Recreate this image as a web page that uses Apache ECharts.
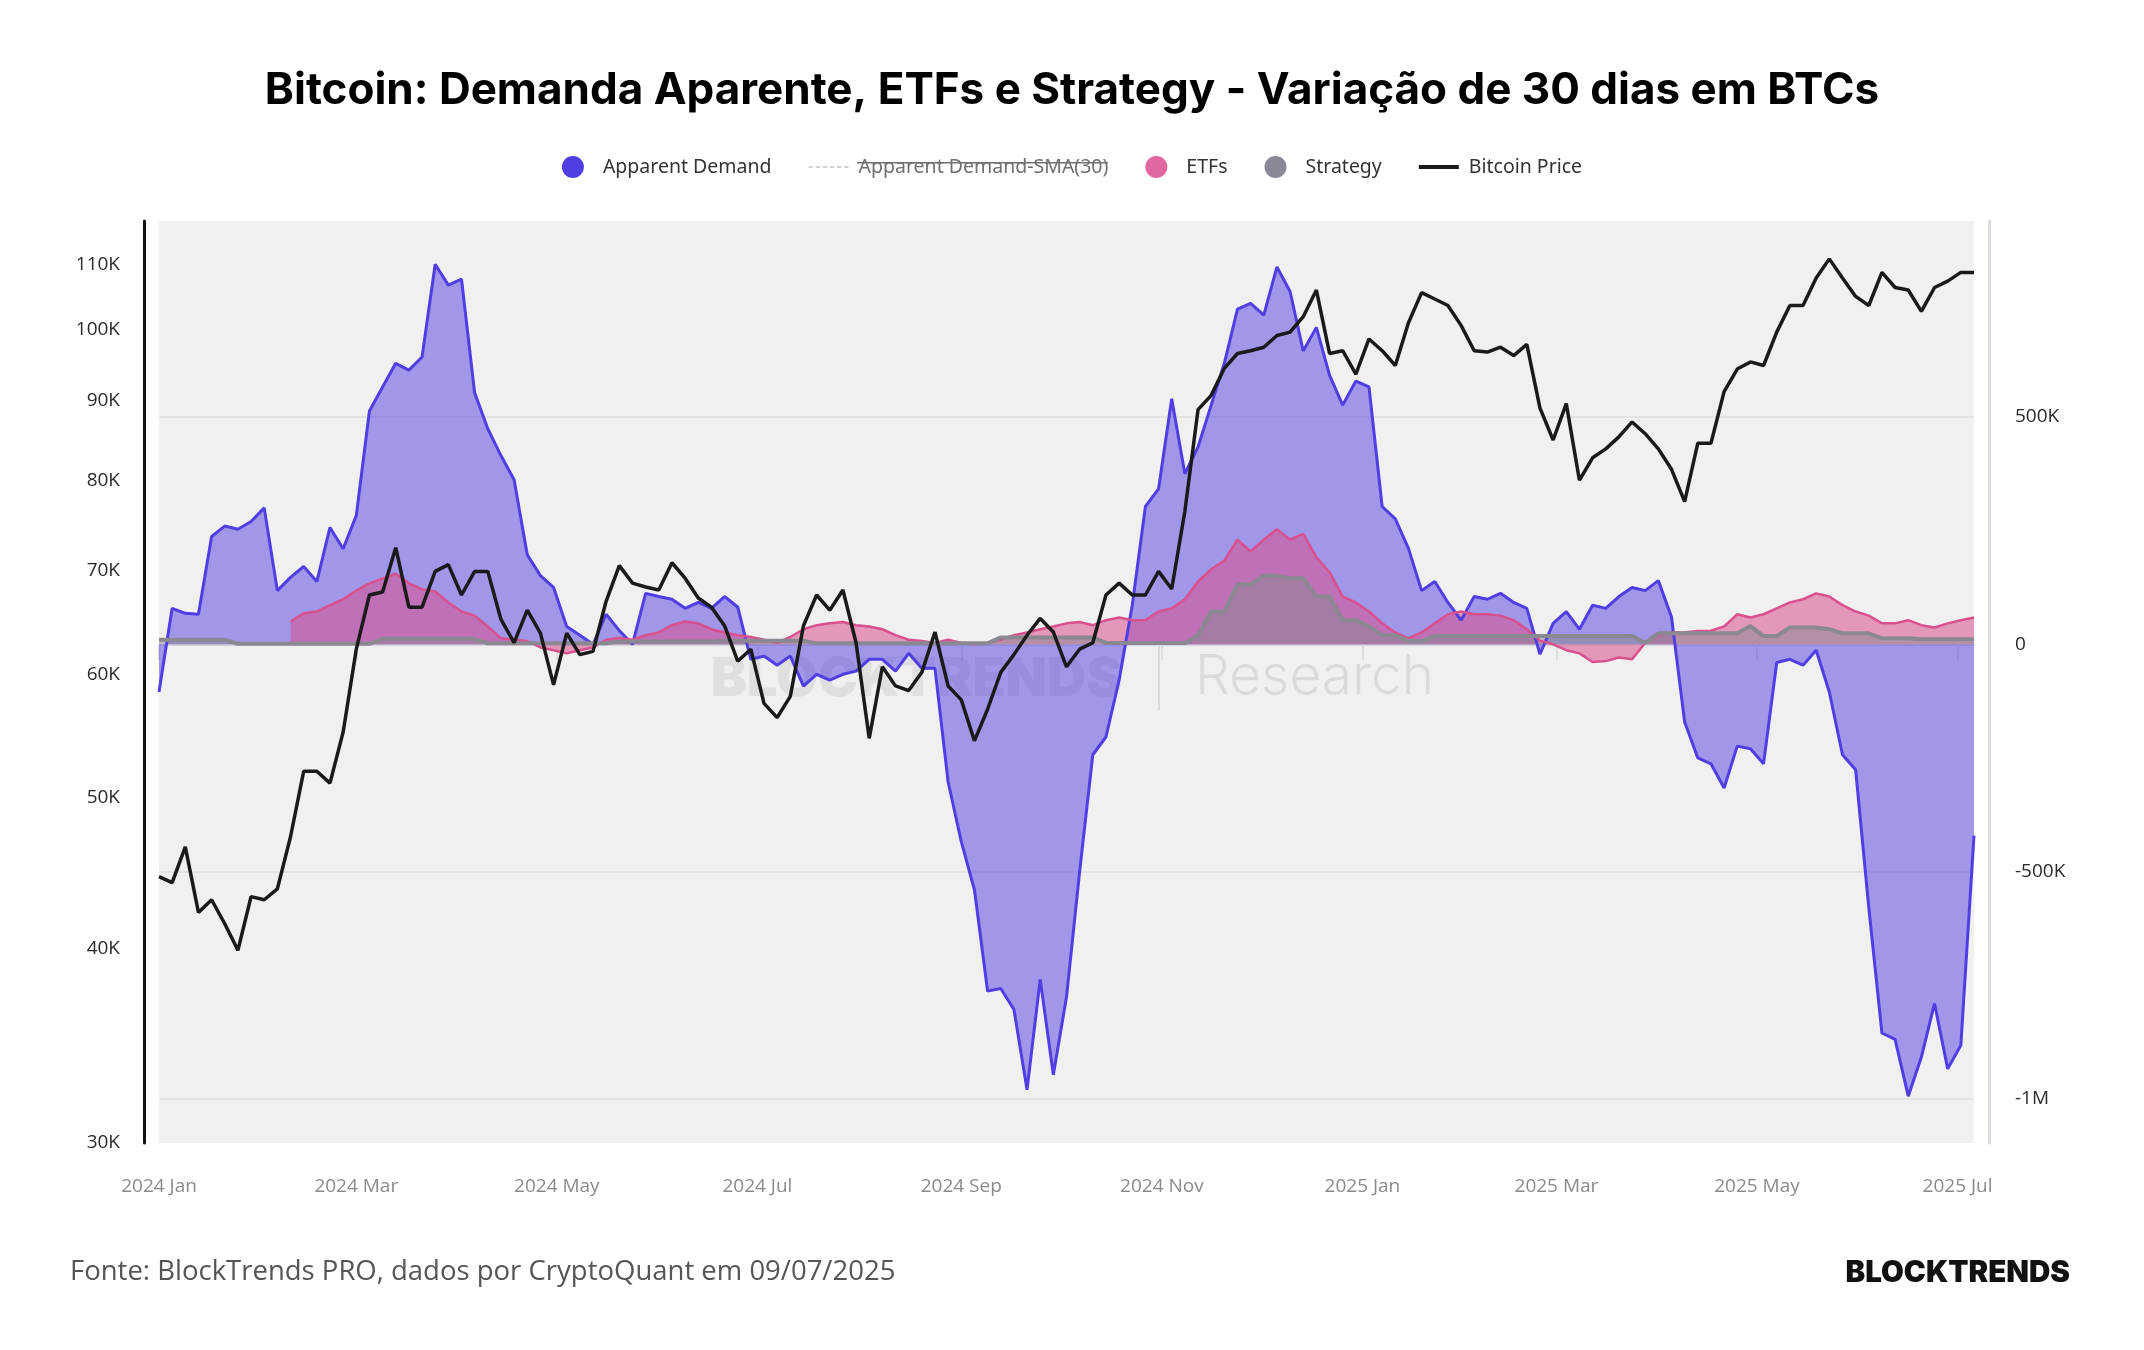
<!DOCTYPE html>
<html>
<head>
<meta charset="utf-8">
<title>Bitcoin: Demanda Aparente, ETFs e Strategy</title>
<script src="https://cdn.jsdelivr.net/npm/echarts@6/dist/echarts.min.js"></script>
<style>
  html, body { margin: 0; padding: 0; background: #fff; }
  #main { width: 2144px; height: 1350px; }
</style>
</head>
<body>
<div id="main"></div>
<script>
// datas (a cada 4 dias)
var dates = [
  '2024-01-01','2024-01-05','2024-01-09','2024-01-13','2024-01-17','2024-01-21','2024-01-25','2024-01-29','2024-02-02','2024-02-06',
  '2024-02-10','2024-02-14','2024-02-18','2024-02-22','2024-02-26','2024-03-01','2024-03-05','2024-03-09','2024-03-13','2024-03-17',
  '2024-03-21','2024-03-25','2024-03-29','2024-04-02','2024-04-06','2024-04-10','2024-04-14','2024-04-18','2024-04-22','2024-04-26',
  '2024-04-30','2024-05-04','2024-05-08','2024-05-12','2024-05-16','2024-05-20','2024-05-24','2024-05-28','2024-06-01','2024-06-05',
  '2024-06-09','2024-06-13','2024-06-17','2024-06-21','2024-06-25','2024-06-29','2024-07-03','2024-07-07','2024-07-11','2024-07-15',
  '2024-07-19','2024-07-23','2024-07-27','2024-07-31','2024-08-04','2024-08-08','2024-08-12','2024-08-16','2024-08-20','2024-08-24',
  '2024-08-28','2024-09-01','2024-09-05','2024-09-09','2024-09-13','2024-09-17','2024-09-21','2024-09-25','2024-09-29','2024-10-03',
  '2024-10-07','2024-10-11','2024-10-15','2024-10-19','2024-10-23','2024-10-27','2024-10-31','2024-11-04','2024-11-08','2024-11-12',
  '2024-11-16','2024-11-20','2024-11-24','2024-11-28','2024-12-02','2024-12-06','2024-12-10','2024-12-14','2024-12-18','2024-12-22',
  '2024-12-26','2024-12-30','2025-01-03','2025-01-07','2025-01-11','2025-01-15','2025-01-19','2025-01-23','2025-01-27','2025-01-31',
  '2025-02-04','2025-02-08','2025-02-12','2025-02-16','2025-02-20','2025-02-24','2025-02-28','2025-03-04','2025-03-08','2025-03-12',
  '2025-03-16','2025-03-20','2025-03-24','2025-03-28','2025-04-01','2025-04-05','2025-04-09','2025-04-13','2025-04-17','2025-04-21',
  '2025-04-25','2025-04-29','2025-05-03','2025-05-07','2025-05-11','2025-05-15','2025-05-19','2025-05-23','2025-05-27','2025-05-31',
  '2025-06-04','2025-06-08','2025-06-12','2025-06-16','2025-06-20','2025-06-24','2025-06-28','2025-07-02','2025-07-06'
];

// variacao de 30 dias, em milhares de BTC
var apparentDemand = [
  -105, 79, 68, 66, 237, 260, 253, 270, 300, 118,
  147, 171, 138, 257, 210, 283, 513, 566, 618, 603,
  632, 836, 790, 803, 553, 474, 415, 362, 197, 151,
  125, 39, 20, 0, 66, 30, 0, 112, 105, 99,
  79, 92, 79, 105, 82, -33, -26, -46, -26, -92,
  -66, -79, -66, -59, -33, -33, -59, -20, -53, -53,
  -303, -434, -540, -763, -757, -803, -980, -737, -947, -776,
  -500, -243, -204, -79, 86, 303, 342, 540, 375, 434,
  526, 618, 737, 750, 724, 830, 776, 645, 697, 592,
  526, 579, 566, 303, 276, 211, 118, 138, 92, 53,
  105, 99, 112, 92, 79, -22, 46, 72, 33, 86,
  79, 105, 125, 118, 140, 60, -171, -250, -263, -316,
  -224, -230, -263, -40, -33, -46, -13, -105, -243, -276,
  -579, -855, -869, -994, -908, -790, -934, -882, -421
];

var etfs = [
  null, null, null, null, null, null, null, null, null, null,
  50, 68, 72, 86, 99, 118, 134, 145, 155, 134,
  121, 116, 92, 72, 63, 39, 13, 10, 7, -7,
  -13, -20, -13, -7, 10, 14, 10, 20, 26, 42,
  50, 46, 33, 26, 20, 16, 10, 3, 16, 33,
  42, 46, 49, 42, 39, 33, 20, 10, 7, 3,
  10, 3, 0, 3, 10, 20, 26, 33, 39, 46,
  49, 42, 53, 59, 53, 53, 72, 79, 99, 138,
  165, 184, 230, 204, 230, 253, 230, 243, 191, 158,
  105, 92, 72, 46, 26, 13, 26, 46, 66, 72,
  66, 66, 63, 53, 33, 8, 0, -13, -20, -39,
  -37, -29, -33, 3, 20, 26, 26, 29, 30, 39,
  66, 59, 66, 79, 92, 99, 112, 105, 86, 72,
  63, 46, 46, 53, 42, 37, 46, 53, 59
];

var strategy = [
  10, 10, 10, 10, 10, 10, 1, 1, 1, 1,
  1, 1, 1, 1, 1, 1, 1, 12, 12, 12,
  12, 12, 12, 12, 12, 2, 2, 2, 2, 2,
  2, 2, 2, 2, 2, 6, 6, 6, 6, 6,
  6, 6, 6, 8, 8, 8, 8, 8, 8, 8,
  2, 2, 2, 2, 2, 2, 2, 2, 2, 2,
  2, 2, 2, 2, 15, 15, 15, 15, 15, 15,
  15, 15, 3, 3, 3, 3, 3, 3, 3, 20,
  72, 72, 132, 132, 151, 151, 145, 145, 105, 105,
  53, 53, 39, 20, 20, 7, 7, 18, 18, 18,
  18, 18, 18, 18, 18, 18, 18, 18, 18, 18,
  18, 18, 18, 3, 24, 24, 24, 24, 24, 24,
  24, 40, 18, 18, 37, 37, 37, 33, 24, 24,
  24, 13, 13, 13, 11, 11, 11, 11, 11
];

// preco do bitcoin, em milhares de USD
var btcPrice = [
  44.5, 44.1, 46.5, 42.2, 43.0, 41.5, 39.9, 43.2, 43.0, 43.7,
  47.2, 52.0, 52.0, 51.1, 55.1, 62.3, 67.5, 67.8, 72.4, 66.3,
  66.3, 69.9, 70.6, 67.5, 69.9, 69.9, 65.1, 62.9, 66.0, 63.8,
  59.1, 63.8, 61.8, 62.1, 66.9, 70.5, 68.7, 68.3, 68.0, 70.8,
  69.2, 67.2, 66.3, 64.5, 61.2, 62.3, 57.5, 56.3, 58.1, 64.5,
  67.5, 66.0, 68.0, 62.9, 54.6, 60.7, 59.0, 58.6, 60.2, 63.9,
  59.0, 57.8, 54.4, 57.0, 60.2, 61.8, 63.6, 65.2, 63.9, 60.7,
  62.3, 62.9, 67.5, 68.7, 67.5, 67.5, 69.9, 68.1, 76.4, 88.8,
  90.7, 94.4, 96.5, 96.9, 97.4, 99.1, 99.6, 101.9, 106.0, 96.5,
  96.9, 93.6, 98.6, 96.9, 94.8, 101.0, 105.6, 104.6, 103.6, 100.6,
  96.9, 96.7, 97.4, 96.2, 97.8, 89.0, 84.9, 89.6, 80.0, 82.7,
  83.8, 85.3, 87.2, 85.7, 83.8, 81.3, 77.5, 84.5, 84.5, 91.2,
  94.3, 95.3, 94.8, 99.6, 103.6, 103.6, 107.9, 111.0, 107.9, 105.0,
  103.6, 108.8, 106.4, 106.0, 102.7, 106.4, 107.4, 108.8, 108.8
];

var priceTicks = [30, 40, 50, 60, 70, 80, 90, 100, 110];
var demandTicks = [-1000, -500, 0, 500];
var monthNames = ['Jan', 'Feb', 'Mar', 'Apr', 'May', 'Jun', 'Jul', 'Aug', 'Sep', 'Oct', 'Nov', 'Dec'];

function toTime(s) {
  var p = s.split('-');
  return new Date(+p[0], +p[1] - 1, +p[2]).getTime();
}
function pair(arr) {
  return dates.map(function (d, i) { return [d, arr[i]]; });
}

var myChart = echarts.init(document.getElementById('main'));

var axisFont = 'Open Sans';
var dashIcon = 'path://M0,0h5v2h-5z M8,0h5v2h-5z M16,0h5v2h-5z M24,0h5v2h-5z M32,0h5v2h-5z M40,0h5v2h-5z';
var barIcon = 'path://M0,0h40v4h-40z';

myChart.setOption({
  animation: false,
  backgroundColor: '#ffffff',
  title: {
    text: 'Bitcoin: Demanda Aparente, ETFs e Strategy - Variação de 30 dias em BTCs',
    left: 'center',
    top: 64,
    textStyle: { fontFamily: 'Inter', fontWeight: 'bold', fontSize: 44, color: '#000' }
  },
  legend: {
    top: 151,
    left: 'center',
    itemWidth: 40,
    itemHeight: 22,
    itemGap: 37,
    textStyle: { fontFamily: 'Noto Sans', fontSize: 19.5, color: '#333', padding: [0, 0, 0, 5] },
    data: [
      { name: 'Apparent Demand', icon: 'circle' },
      { name: 'Apparent Demand-SMA(30)', icon: dashIcon, itemStyle: { color: '#d4d4d4' }, textStyle: { color: '#707070' } },
      { name: 'ETFs', icon: 'circle', itemStyle: { color: '#e0679f' } },
      { name: 'Strategy', icon: 'circle', itemStyle: { color: '#8a8796' } },
      { name: 'Bitcoin Price', icon: barIcon, itemStyle: { color: '#1a1a1a' } }
    ]
  },
  grid: {
    left: 159, right: 170, top: 221, bottom: 207,
    show: true, backgroundColor: '#f0f0f0', borderWidth: 0
  },
  xAxis: {
    type: 'time',
    min: toTime(dates[0]),
    max: toTime(dates[dates.length - 1]),
    splitNumber: 8,
    axisLine: { lineStyle: { color: '#d4d4de', width: 2 } },
    axisTick: { show: true, length: 16, lineStyle: { color: '#dedede', width: 2 } },
    splitLine: { show: false },
    axisLabel: {
      color: '#8a8a8a',
      fontFamily: axisFont,
      fontSize: 19,
      margin: 34,
      formatter: function (v) {
        var d = new Date(v);
        return d.getFullYear() + ' ' + monthNames[d.getMonth()];
      }
    }
  },
  yAxis: [
    {
      type: 'log',
      position: 'left',
      min: 30,
      max: 117.4,
      offset: 15,
      axisLine: { show: true, lineStyle: { color: '#111', width: 3 } },
      axisTick: { show: false },
      splitLine: { show: false },
      axisLabel: {
        customValues: priceTicks,
        color: '#2a2a2a',
        fontFamily: axisFont,
        fontSize: 19,
        margin: 24,
        formatter: function (v) { return Math.round(v) + 'K'; }
      }
    },
    {
      type: 'value',
      position: 'right',
      min: -1097,
      max: 931,
      offset: 15,
      axisLine: { show: true, lineStyle: { color: '#dcdce4', width: 3 } },
      axisTick: { show: false, customValues: demandTicks },
      splitLine: { show: true, lineStyle: { color: '#e3e3e3', width: 2 } },
      axisLabel: {
        customValues: demandTicks,
        color: '#2a2a2a',
        fontFamily: axisFont,
        fontSize: 19,
        margin: 26,
        formatter: function (v) {
          if (v === 0) return '0';
          if (Math.abs(v) >= 1000) return (v / 1000) + 'M';
          return v + 'K';
        }
      }
    }
  ],
  graphic: [
    // marca d'agua
    { type: 'text', z: 1, left: 711, top: 653, style: { text: 'BLOCKTRENDS', fontFamily: 'Inter', fontWeight: 900, fontSize: 54, fill: 'rgba(0,0,0,0.07)' } },
    { type: 'rect', z: 1, left: 1158, top: 646, shape: { width: 2, height: 64 }, style: { fill: 'rgba(0,0,0,0.09)' } },
    { type: 'text', z: 1, left: 1195, top: 650, style: { text: 'Research', fontFamily: 'Inter', fontWeight: 300, fontSize: 55, fill: 'rgba(0,0,0,0.09)' } },
    // risco da serie desativada na legenda
    { type: 'rect', z: 10, left: 857, top: 162, shape: { width: 251, height: 1.5 }, style: { fill: '#707070' } },
    // rodape
    { type: 'text', left: 70, top: 1258, style: { text: 'Fonte: BlockTrends PRO, dados por CryptoQuant em 09/07/2025', fontFamily: 'Open Sans', fontSize: 27.5, fill: '#555' } },
    { type: 'text', right: 74, top: 1258, style: { text: 'BLOCKTRENDS', fontFamily: 'Inter', fontWeight: 900, fontSize: 29.5, fill: '#111' } }
  ],
  series: [
    {
      name: 'Apparent Demand',
      type: 'line',
      yAxisIndex: 1,
      data: pair(apparentDemand),
      symbol: 'none',
      itemStyle: { color: '#4f3ee2' },
      lineStyle: { color: '#4f3ee2', width: 3 },
      areaStyle: { color: '#4f3ee2', opacity: 0.5 }
    },
    {
      name: 'Apparent Demand-SMA(30)',
      type: 'line',
      yAxisIndex: 1,
      data: [],
      symbol: 'none',
      itemStyle: { color: '#d4d4d4' },
      lineStyle: { color: '#d4d4d4', width: 1, type: 'dashed' }
    },
    {
      name: 'ETFs',
      type: 'line',
      yAxisIndex: 1,
      data: pair(etfs),
      symbol: 'none',
      itemStyle: { color: '#d9508e' },
      lineStyle: { color: '#d9508e', width: 2.5 },
      areaStyle: { color: '#d9508e', opacity: 0.55 }
    },
    {
      name: 'Strategy',
      type: 'line',
      yAxisIndex: 1,
      data: pair(strategy),
      symbol: 'none',
      itemStyle: { color: '#8a8890' },
      lineStyle: { color: '#8a8890', width: 4 },
      areaStyle: { color: '#888690', opacity: 0.5 }
    },
    {
      name: 'Bitcoin Price',
      type: 'line',
      yAxisIndex: 0,
      data: pair(btcPrice),
      symbol: 'none',
      itemStyle: { color: '#1a1a1a' },
      lineStyle: { color: '#1a1a1a', width: 3.5 }
    }
  ]
});
</script>
</body>
</html>
